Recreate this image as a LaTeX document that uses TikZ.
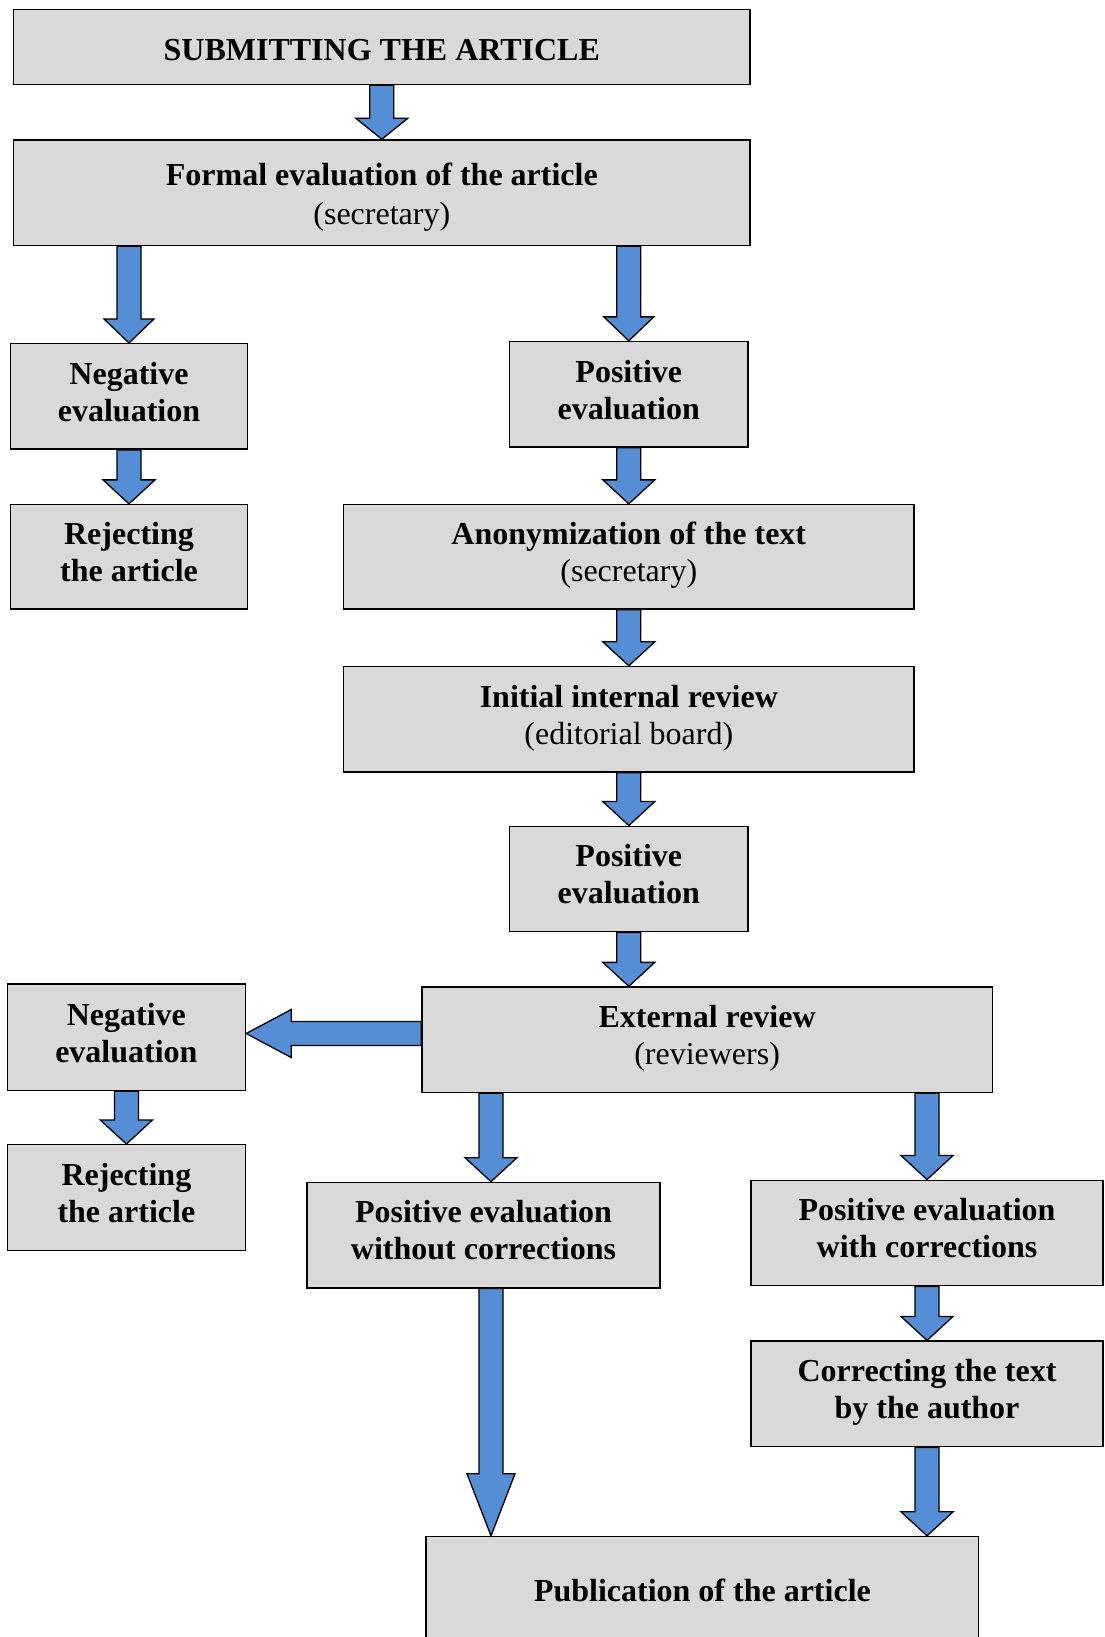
\documentclass[tikz,border=0pt]{standalone}
\usepackage{fontspec}
\setmainfont{Liberation Serif}
\usetikzlibrary{calc}
\definecolor{boxgray}{RGB}{217,217,217}
\definecolor{arrowblue}{RGB}{85,142,213}
\tikzset{
  stagebox/.style={draw=black, line width=1.4pt, fill=boxgray, rectangle, inner sep=0pt, align=center,
    font=\fontsize{32}{37}\selectfont},
  fatarrow/.style={draw=black, line width=1.3pt, fill=arrowblue, line join=miter},
}
\newcommand\topS{\rule{0pt}{26pt}}
\newcommand\botS{\rule[-13.4pt]{0pt}{13.4pt}}
% #1 x-reference, #2 source node, #3 target node, #4 head length, #5 head half width
\newcommand\fatdown[5]{%
  \draw[fatarrow] let \p1=(#1), \p2=(#2.south), \p3=(#3.north) in
    (\x1-12pt,\y2) -- (\x1-12pt,\y3+#4pt) -- (\x1-#5pt,\y3+#4pt) -- (\x1,\y3)
    -- (\x1+#5pt,\y3+#4pt) -- (\x1+12pt,\y3+#4pt) -- (\x1+12pt,\y2) -- cycle;}
\begin{document}
\begin{tikzpicture}[x=1pt,y=-1pt]
\useasboundingbox (0,0) rectangle (1104,1637);
\clip (0,0) rectangle (1104,1637);
\node[stagebox, minimum width=736.4pt, minimum height=75.2pt] (submit) at (381.8,47) {\rule{0pt}{27pt}\bfseries SUBMITTING THE ARTICLE};
\node[stagebox, font=\fontsize{32}{38.6}\selectfont, minimum width=736.4pt, minimum height=105.5pt] (formal) at (381.8,192.7) {\rule{0pt}{31pt}\bfseries Formal evaluation of the article\\(secretary)};
\node[stagebox, minimum width=237pt, minimum height=105.5pt] (neg1) at (129,396.4) {\topS\bfseries Negative\\\bfseries evaluation\botS};
\node[stagebox, minimum width=238.2pt, minimum height=105.5pt] (pos1) at (628.8,394.3) {\topS\bfseries Positive\\\bfseries evaluation\botS};
\node[stagebox, minimum width=237pt, minimum height=104.5pt] (rej1) at (129,556.8) {\topS\bfseries Rejecting\\\bfseries the article\botS};
\node[stagebox, minimum width=570.4pt, minimum height=104.5pt] (anon) at (628.8,556.8) {\topS\bfseries Anonymization of the text\\(secretary)\botS};
\node[stagebox, minimum width=570.4pt, minimum height=105.5pt] (initial) at (628.8,719.2) {\topS\bfseries Initial internal review\\(editorial board)\botS};
\node[stagebox, minimum width=238.2pt, minimum height=105.5pt] (pos2) at (628.8,879) {\topS\bfseries Positive\\\bfseries evaluation\botS};
\node[stagebox, minimum width=570.3pt, minimum height=105.5pt] (ext) at (707.1,1039.8) {\topS\bfseries External review\\(reviewers)\botS};
\node[stagebox, minimum width=238.2pt, minimum height=106.5pt] (neg2) at (126.4,1037.2) {\topS\bfseries Negative\\\bfseries evaluation\botS};
\node[stagebox, minimum width=238.2pt, minimum height=105.5pt] (rej2) at (126.4,1197.5) {\topS\bfseries Rejecting\\\bfseries the article\botS};
\node[stagebox, minimum width=353pt, minimum height=105.5pt] (poswo) at (483.5,1235.1) {\topS\bfseries Positive evaluation\\\bfseries without corrections\botS};
\node[stagebox, minimum width=352pt, minimum height=105.5pt] (posw) at (927,1233) {\topS\bfseries Positive evaluation\\\bfseries with corrections\botS};
\node[stagebox, minimum width=352pt, minimum height=105.5pt] (corr) at (927,1393.9) {\topS\bfseries Correcting the text\\\bfseries by the author\botS};
\node[stagebox, minimum width=552.5pt, minimum height=105pt] (pub) at (702.4,1589) {\rule{0pt}{26pt}\bfseries Publication of the article};
\coordinate (colw) at (491,0);
\coordinate (lefty) at (0,1033.5);
\fatdown{submit}{submit}{formal}{21}{26}
\fatdown{neg1}{formal}{neg1}{24}{25}
\fatdown{pos1}{formal}{pos1}{24}{25}
\fatdown{neg1}{neg1}{rej1}{24}{26}
\fatdown{pos1}{pos1}{anon}{24}{26}
\fatdown{anon}{anon}{initial}{24}{26}
\fatdown{initial}{initial}{pos2}{24}{26}
\fatdown{pos2}{pos2}{ext}{24}{26}
\fatdown{neg2}{neg2}{rej2}{24}{26}
\fatdown{colw}{ext}{poswo}{24}{26}
\fatdown{posw}{ext}{posw}{24}{26}
\fatdown{posw}{posw}{corr}{24}{26}
\fatdown{colw}{poswo}{pub}{62}{24}
\fatdown{corr}{corr}{pub}{24}{26}
\draw[fatarrow] let \p1=(ext.west |- lefty), \p2=(neg2.east |- lefty) in
  (\x1,\y1+12pt) -- (\x2+45pt,\y1+12pt) -- (\x2+45pt,\y1+24pt) -- (\x2,\y1)
  -- (\x2+45pt,\y1-24pt) -- (\x2+45pt,\y1-12pt) -- (\x1,\y1-12pt) -- cycle;
\end{tikzpicture}
\end{document}
